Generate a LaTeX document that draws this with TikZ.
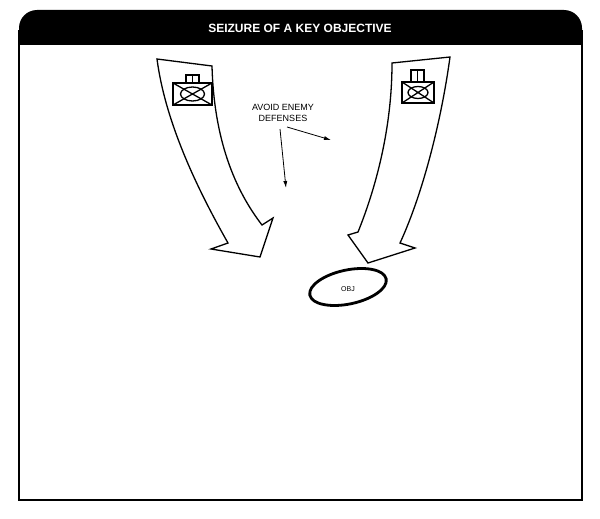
\documentclass[tikz,border=0pt]{standalone}
\usepackage{fontspec}
\setmainfont{Liberation Sans}
\usetikzlibrary{arrows.meta}
\begin{document}
\begin{tikzpicture}[x=1pt,y=-1pt,
  bigarrow/.style={draw,line width=1.3pt,fill=white,line join=miter},
  unitbox/.style={draw,line width=1.3pt},
  leader/.style={draw,line width=0.8pt,-{Latex[length=7pt,width=4pt]}}]
\useasboundingbox (0,0) rectangle (600,519);
% frame
\draw[line width=1.2pt] (19,30) -- (19,500) -- (582,500) -- (582,30);
\fill[black] (19,45) [rounded corners=18] -- (19,10) -- (582,10) [sharp corners] -- (582,45) -- cycle;
\node[text=white,font=\bfseries\fontsize{12}{14}\selectfont] (title) at (300,28) {SEIZURE OF A KEY OBJECTIVE};
% left arrow
\path[bigarrow] (157,59) -- (212,66) .. controls (214,140) and (235,190) .. (262,225)
  -- (273,218) -- (260,257) -- (211,249) -- (228,243)
  .. controls (195,185) and (165,120) .. cycle;
% right arrow
\path[bigarrow] (392,63) -- (450,57) .. controls (440,130) and (420,200) .. (400,243)
  -- (415,248) -- (368,263) -- (348,235) -- (358,232)
  .. controls (375,190) and (392,130) .. cycle;
% unit symbols
\draw[unitbox] (173,83) rectangle (212,105);
\draw[unitbox] (173,83) -- (212,105) (173,105) -- (212,83);
\draw[unitbox] (192.5,94) ellipse[x radius=12,y radius=7];
\draw[unitbox] (186,75) rectangle (199,83) (192.5,75) -- (192.5,83);
\draw[unitbox] (402,82) rectangle (434,103);
\draw[unitbox] (402,82) -- (434,103) (402,103) -- (434,82);
\draw[unitbox] (418,92.5) ellipse[x radius=10,y radius=6];
\draw[unitbox] (411,70) rectangle (424,82) (417.5,70) -- (417.5,82);
% text and leaders
\node[align=center,font=\fontsize{9}{11}\selectfont] (avoid) at (283,113) {AVOID ENEMY\\DEFENSES};
\coordinate (l1) at (286,188);
\coordinate (l2) at (331,140);
\draw[leader] (280,129) -- (l1);
\draw[leader] (287,127) -- (l2);
% objective
\draw[line width=2.8pt,rotate around={12:(348,287)}] (348,287) ellipse[x radius=39,y radius=17];
\node[font=\fontsize{7}{8}\selectfont] (obj) at (348,289) {OBJ};
\end{tikzpicture}
\end{document}
